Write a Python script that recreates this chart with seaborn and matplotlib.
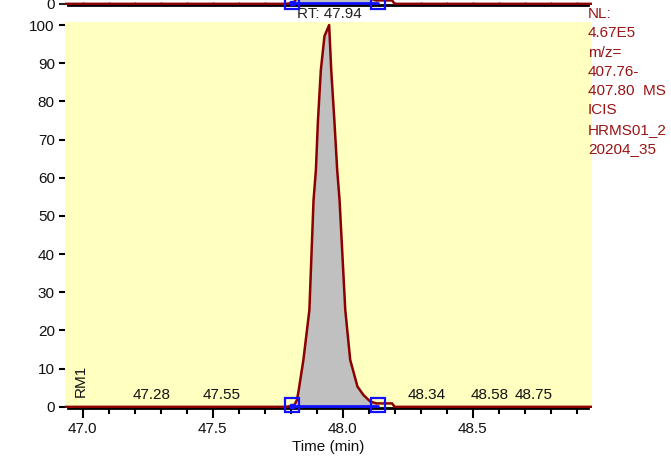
import matplotlib
matplotlib.use("Agg")
import matplotlib.pyplot as plt
import matplotlib.ticker as mticker
import numpy as np
import pandas as pd
import seaborn as sns

# chromatogram trace (time in min, relative abundance in %)
trace_time = [46.932, 47.20, 47.50, 47.78, 47.813, 47.824, 47.830, 47.849,
              47.872, 47.888, 47.897, 47.905, 47.916, 47.930, 47.948, 47.956,
              47.968, 47.979, 47.988, 48.010, 48.029, 48.057, 48.080, 48.106,
              48.130, 48.190, 48.200, 48.400, 48.700, 48.959]
trace_int = [0.0, 0.0, 0.0, 0.0, 0.3, 1.8, 4.0, 12.3,
             25.4, 54.2, 62.0, 75.1, 88.2, 97.1, 100.0, 88.2,
             75.1, 62.0, 54.2, 25.4, 12.3, 5.3, 3.1, 1.4,
             0.9, 0.9, 0.0, 0.0, 0.0, 0.0]

# integration boundaries of the peak
peak_start = 47.805
peak_end = 48.135
rt_label = 47.94

# small labelled peaks along the baseline
noise_peaks = [47.28, 47.55, 48.34, 48.58, 48.75]

info_lines = ["NL:", "4.67E5", "m/z=", "407.76-", "407.80  MS", "ICIS",
              "HRMS01_2", "20204_35"]

sns.set_theme(style="ticks")
plt.rcParams["font.family"] = ["Liberation Sans", "DejaVu Sans"]
fs = 11

dark_red = "#8b0000"
text_red = "#9a1414"
blue = "#1010ff"
yellow = "#ffffc0"

df = pd.DataFrame({"time": trace_time, "intensity": trace_int})

fig = plt.figure(figsize=(6.71, 4.59), dpi=100)
ax = fig.add_axes([65 / 671, 1 - 408 / 459, 527 / 671, 386 / 459])
ax_top = fig.add_axes([65 / 671, 1 - 5 / 459, 527 / 671, 386 / 459])


def draw_trace(a):
    t = df["time"].values
    y = df["intensity"].values
    mask = (t >= peak_start) & (t <= peak_end)
    a.fill_between(t, 0, y, where=mask, color="#c0c0c0", lw=0, zorder=2)
    sns.lineplot(data=df, x="time", y="intensity", ax=a, color=dark_red,
                 lw=1.8, estimator=None, sort=False, zorder=3)
    # integration baseline + boundary markers
    a.plot([peak_start, peak_end], [0.2, 0.2], color=blue, lw=2,
           zorder=4, clip_on=False)
    a.plot([peak_start, peak_end], [0.6, 0.6], ls="none", marker="s", ms=10,
           mfc="none", mec=blue, mew=1.6, zorder=5, clip_on=False)
    a.plot([peak_start], [0.3], ls="none", marker="s", ms=3, color=blue,
           zorder=5, clip_on=False)
    a.set_xlim(46.932, 48.959)
    a.set_ylim(-0.3, 100.8)
    a.set_xlabel("")
    a.set_ylabel("")
    for s in ["top", "right", "left"]:
        a.spines[s].set_visible(False)
    a.spines["bottom"].set_linewidth(2)
    a.spines["bottom"].set_color("black")
    a.spines["bottom"].set_bounds(46.945, 48.945)


draw_trace(ax)
draw_trace(ax_top)

ax.set_facecolor(yellow)
ax.set_yticks(np.arange(0, 101, 10))
ax.xaxis.set_major_locator(mticker.MultipleLocator(0.5))
ax.xaxis.set_minor_locator(mticker.MultipleLocator(0.1))
ax.xaxis.set_major_formatter(mticker.FormatStrFormatter("%.1f"))
ax.tick_params(axis="x", which="major", length=7.2, width=1.5, pad=3,
               labelsize=fs, color="black", labelcolor="#111111")
ax.tick_params(axis="x", which="minor", length=4.5, width=1.5, color="black")
ax.tick_params(axis="y", length=4.3, width=1.5, pad=3, labelsize=fs,
               color="black", labelcolor="#111111")
ax.set_xlabel("Time (min)", fontsize=fs, labelpad=3, color="#111111")

for val in noise_peaks:
    ax.annotate(f"{val:.2f}", xy=(val, 0), xytext=(-3, 5.5),
                textcoords="offset points", ha="center", va="baseline",
                fontsize=fs, color="#111111")

apex = df.loc[df["intensity"].idxmax(), "time"]
ax.annotate(f"RT: {rt_label:.2f}", xy=(apex, 1.0),
            xycoords=("data", "axes fraction"), xytext=(0, 2.7),
            textcoords="offset points", ha="center", va="baseline",
            fontsize=fs, color="#222222", annotation_clip=False)

ax.text(0.029, 0.028, "RM1", rotation=90, ha="center", va="bottom",
        transform=ax.transAxes, fontsize=fs, color="#111111")

ax_top.patch.set_alpha(0)
ax_top.set_yticks([0])
ax_top.xaxis.set_major_locator(mticker.MultipleLocator(0.5))
ax_top.xaxis.set_minor_locator(mticker.MultipleLocator(0.1))
ax_top.tick_params(axis="x", which="both", direction="in", length=2.5,
                   width=1, labelbottom=False)
ax_top.tick_params(axis="y", length=4.3, width=1.5, pad=3, labelsize=fs,
                   labelcolor="#111111")

for i, line in enumerate(info_lines):
    yb = 18 + i * 19.3
    fig.text(588 / 671, 1 - yb / 459, line, ha="left", va="baseline",
             fontsize=fs, color=text_red)

fig.savefig("out.png", dpi=100)
